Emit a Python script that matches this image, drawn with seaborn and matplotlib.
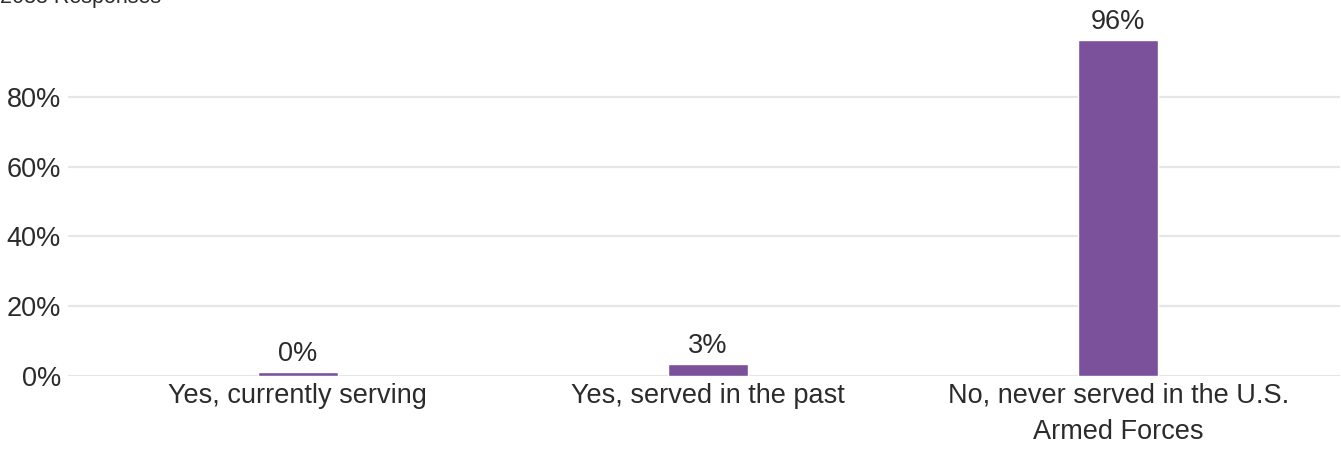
import pandas as pd
import matplotlib
matplotlib.use('Agg')
import matplotlib.pyplot as plt
import seaborn as sns

# Chart data
categories = ['Yes, currently serving', 'Yes, served in the past',
              'No, never served in the U.S.\nArmed Forces']
values = [1.1, 3.4, 96.2]
labels = ['0%', '3%', '96%']
y_ticks = [0, 20, 40, 60, 80]
y_tick_labels = ['0%', '20%', '40%', '60%', '80%']
responses = '2038 Responses'

df = pd.DataFrame({'answer': categories, 'pct': values})

sns.set_style('white')
plt.rcParams['font.family'] = ['Liberation Sans', 'DejaVu Sans']

fig = plt.figure(figsize=(13.41, 4.55), dpi=100)
ax = fig.add_axes([68 / 1341, 79 / 455, 1272 / 1341, 349 / 455])

sns.barplot(data=df, x='answer', y='pct', color='#7b519c', saturation=1,
            width=0.195, ax=ax, zorder=3)

ax.set_xlim(-0.56, 2.54)
ax.set_ylim(0, 100)
ax.set_yticks(y_ticks)
ax.set_yticklabels(y_tick_labels)
ax.grid(axis='y', color='#e6e6e6', linewidth=1.6, zorder=0)
ax.set_axisbelow(True)
sns.despine(ax=ax, left=True, bottom=True)
ax.tick_params(axis='both', length=0, labelsize=19.5, colors='#2b2b2b')
ax.tick_params(axis='y', pad=5)
ax.tick_params(axis='x', pad=5)
for t in ax.get_xticklabels():
    t.set_linespacing(1.5)
ax.set_xlabel('')
ax.set_ylabel('')

ax.bar_label(ax.containers[0], labels=labels, padding=4, fontsize=19.5,
             color='#2b2b2b')

# header text sits partly above the top edge, as in the source
fig.text(0, 1 - 3 / 455, responses, fontsize=15.5, color='#2b2b2b',
         ha='left', va='baseline')

fig.savefig('out.png', dpi=100)
